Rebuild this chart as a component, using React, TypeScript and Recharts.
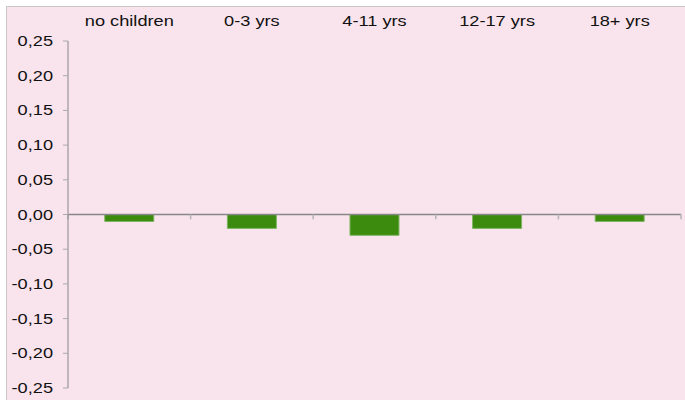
import React from "react";
import { BarChart, Bar, XAxis, YAxis, ReferenceLine } from "recharts";

const categories = ["no children", "0-3 yrs", "4-11 yrs", "12-17 yrs", "18+ yrs"];
const values = [-0.01, -0.02, -0.03, -0.02, -0.01];
const yTicks = [-0.25, -0.2, -0.15, -0.1, -0.05, 0, 0.05, 0.1, 0.15, 0.2, 0.25];
const boundaries = [-0.5, 0.5, 1.5, 2.5, 3.5, 4.5];

const data = categories.map((c, i) => ({ name: c, idx: i, value: values[i] }));

const FONT = "'Liberation Sans', Arial, Helvetica, sans-serif";
const SX = 1.3;

const XTick = (props: any) => {
  const { x, y, payload } = props;
  return (
    <g transform={`translate(${x},${y}) scale(${SX},1)`}>
      <text x={0} y={0} textAnchor="middle" fontFamily={FONT} fontSize={14} fill="#111">
        {payload.value}
      </text>
    </g>
  );
};

const YTick = (props: any) => {
  const { x, y, payload } = props;
  const label = Number(payload.value).toFixed(2).replace(".", ",");
  return (
    <g transform={`translate(${x},${y}) scale(${SX},1)`}>
      <text x={0} y={0} dy={5} textAnchor="end" fontFamily={FONT} fontSize={14} fill="#111">
        {label}
      </text>
    </g>
  );
};

export default function App() {
  return (
    <div
      style={{
        position: "absolute",
        left: 6,
        top: 6,
        width: 679,
        height: 394,
        background: "#F9E3EC",
        borderTop: "1px solid #c8c8c8",
        borderLeft: "1px solid #c8c8c8",
        boxSizing: "border-box",
      }}
    >
      <BarChart
        width={678}
        height={393}
        data={data}
        margin={{ top: 0, right: 4, bottom: 12, left: 0 }}
        barCategoryGap="30%"
      >
        <XAxis
          dataKey="name"
          orientation="top"
          height={34}
          axisLine={false}
          tickLine={false}
          tickSize={0}
          tickMargin={15}
          tick={<XTick />}
          interval={0}
        />
        <XAxis
          xAxisId="n"
          dataKey="idx"
          type="number"
          domain={[-0.5, 4.5]}
          allowDataOverflow
          hide
        />
        <YAxis
          width={61}
          domain={[-0.25, 0.25]}
          ticks={yTicks}
          interval={0}
          allowDataOverflow
          axisLine={{ stroke: "#888", strokeWidth: 1 }}
          tickLine={{ stroke: "#aaa" }}
          tickSize={5}
          tickMargin={10}
          tick={<YTick />}
        />
        <Bar
          dataKey="value"
          fill="#3C8A0E"
          stroke="#7DB562"
          strokeWidth={1}
          isAnimationActive={false}
        />
        <ReferenceLine y={0} stroke="#888" strokeWidth={1.5} />
        {boundaries.map((b) => (
          <ReferenceLine
            key={b}
            xAxisId="n"
            ifOverflow="extendDomain"
            segment={[
              { x: b, y: 0 },
              { x: b, y: -0.007 },
            ]}
            stroke="#b5b5b5"
            strokeWidth={1.5}
          />
        ))}
      </BarChart>
    </div>
  );
}
